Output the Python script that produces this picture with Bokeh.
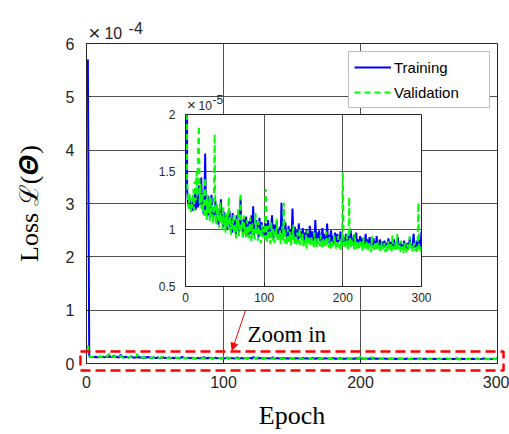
import numpy as np
from bokeh.plotting import figure
from bokeh.models import (Range1d, FixedTicker, NumeralTickFormatter, Legend, LegendItem,
                          Arrow, NormalHead, Label)
from bokeh.embed import file_html
from bokeh.resources import INLINE

# ---------------- data (loss values in units of 1e-7) ----------------
epochs = list(range(1, 301))
train_loss_e7 = [
    5700, 135, 124, 121, 118, 125, 119, 122, 116, 128,
    120, 131, 117, 124, 135, 119, 138, 121, 126, 145,
    118, 127, 113, 122, 166, 115, 124, 112, 129, 117,
    110, 121, 130, 114, 108, 119, 112, 125, 107, 116,
    111, 104, 118, 109, 126, 106, 113, 102, 115, 108,
    104, 112, 100, 109, 105, 116, 101, 110, 97, 114,
    103, 99, 108, 96, 112, 101, 105, 98, 110, 127,
    100, 106, 95, 109, 101, 97, 111, 99, 104, 94,
    107, 100, 96, 112, 98, 120, 95, 103, 99, 108,
    96, 104, 93, 110, 100, 97, 106, 94, 102, 98,
    95, 105, 99, 93, 108, 97, 101, 94, 103, 112,
    96, 92, 104, 98, 95, 107, 93, 100, 96, 102,
    94, 123, 97, 92, 101, 95, 106, 93, 99, 91,
    103, 96, 92, 100, 94, 118, 95, 91, 102, 97,
    93, 99, 90, 105, 95, 92, 98, 91, 101, 94,
    90, 97, 93, 100, 91, 96, 89, 103, 94, 92,
    98, 90, 95, 91, 108, 93, 89, 97, 92, 99,
    90, 94, 88, 101, 92, 96, 89, 93, 91, 105,
    90, 95, 88, 92, 99, 89, 94, 91, 87, 97,
    92, 89, 96, 88, 93, 90, 98, 88, 92, 95,
    89, 93, 87, 96, 90, 88, 94, 91, 87, 99,
    89, 92, 86, 95, 90, 88, 97, 87, 91, 89,
    86, 94, 89, 87, 92, 85, 90, 88, 96, 86,
    91, 87, 85, 93, 88, 86, 90, 84, 92, 87,
    89, 85, 94, 86, 88, 84, 91, 87, 85, 89,
    86, 84, 90, 85, 88, 83, 87, 92, 84, 86,
    89, 84, 87, 83, 91, 85, 88, 84, 86, 93,
    84, 87, 83, 89, 85, 86, 82, 90, 84, 87,
    83, 88, 85, 82, 92, 84, 86, 83, 89, 96,
    84, 87, 82, 90, 85, 83, 91, 84, 86, 98,
]
val_loss_e7 = [
    340, 142, 128, 118, 131, 122, 114, 127, 119, 135,
    116, 142, 125, 150, 128, 170, 190, 122, 140, 118,
    132, 115, 126, 110, 145, 121, 108, 130, 114, 124,
    107, 128, 115, 121, 105, 118, 183, 112, 104, 122,
    109, 117, 101, 124, 106, 112, 99, 119, 103, 110,
    97, 114, 102, 108, 128, 99, 111, 95, 106, 100,
    113, 96, 104, 92, 109, 98, 118, 94, 103, 132,
    97, 107, 91, 112, 96, 101, 93, 108, 95, 104,
    92, 110, 97, 89, 105, 94, 100, 91, 114, 96,
    102, 90, 107, 95, 99, 88, 104, 93, 100, 97,
    91, 135, 96, 89, 103, 92, 98, 87, 106, 94,
    90, 101, 88, 97, 93, 109, 89, 96, 91, 99,
    87, 95, 102, 90, 123, 88, 97, 92, 86, 100,
    93, 89, 98, 86, 95, 91, 104, 87, 94, 90,
    85, 97, 92, 88, 101, 86, 93, 89, 96, 84,
    91, 87, 95, 83, 99, 88, 92, 85, 90, 94,
    86, 89, 83, 97, 88, 91, 84, 93, 87, 90,
    85, 95, 88, 83, 92, 86, 90, 84, 98, 87,
    89, 84, 93, 86, 82, 91, 87, 85, 95, 88,
    83, 90, 86, 94, 84, 88, 82, 92, 86, 150,
    85, 91, 87, 83, 95, 86, 82, 128, 88, 84,
    92, 85, 89, 82, 96, 86, 83, 90, 84, 88,
    82, 91, 85, 88, 81, 93, 84, 87, 82, 90,
    85, 81, 89, 84, 86, 80, 94, 83, 87, 82,
    88, 81, 85, 90, 82, 86, 80, 84, 89, 81,
    85, 82, 88, 80, 86, 83, 81, 90, 84, 82,
    87, 80, 95, 83, 85, 81, 89, 82, 96, 84,
    81, 86, 80, 90, 83, 85, 79, 88, 82, 84,
    80, 87, 83, 81, 94, 82, 86, 80, 85, 83,
    88, 81, 84, 80, 86, 123, 82, 85, 80, 84,
]
x_ticks = [0, 100, 200, 300]
main_y_ticks = [0, 1, 2, 3, 4, 5, 6]        # x 1e-4
inset_y_ticks = [0.5, 1, 1.5, 2]            # x 1e-5
series_labels = ["Training", "Validation"]

train_main = np.array(train_loss_e7) / 1000.0   # units of 1e-4
val_main = np.array(val_loss_e7) / 1000.0
train_inset = np.array(train_loss_e7) / 100.0   # units of 1e-5
val_inset = np.array(val_loss_e7) / 100.0

BLUE = "#0000FF"
GREEN = "#00FF00"
AX = "#262626"
GRID = "#505050"
TICKFONT = "Liberation Sans"
SERIF = "Liberation Serif"

W, H = 509, 434
# main frame geometry (pixels)
FL, FR, FT, FB = 86, 497, 43, 363
X0, X1, Y0, Y1 = 0, 300, 0, 6


def style_axes(fig, size):
    for ax in (fig.xaxis, fig.yaxis):
        ax.axis_line_color = AX
        ax.major_tick_line_color = AX
        ax.major_tick_in = 4
        ax.major_tick_out = 0
        ax.minor_tick_line_color = None
        ax.major_label_text_font = TICKFONT
        ax.major_label_text_font_size = size
        ax.major_label_text_color = AX
    fig.grid.grid_line_color = GRID
    fig.grid.grid_line_width = 1
    fig.outline_line_color = AX
    fig.outline_line_width = 1
    fig.outline_line_alpha = 1


# ---------------- main figure ----------------
p = figure(width=W, height=H, x_range=Range1d(X0, X1), y_range=Range1d(Y0, Y1),
           output_backend="svg", toolbar_location=None,
           min_border_left=FL, min_border_right=W - FR, min_border_top=FT, min_border_bottom=H - FB)
p.background_fill_color = "white"
p.border_fill_color = "white"
style_axes(p, "16px")
p.xaxis.ticker = FixedTicker(ticks=x_ticks)
p.yaxis.ticker = FixedTicker(ticks=main_y_ticks)
p.xaxis.major_label_standoff = 12
p.yaxis.major_label_standoff = 12
p.xaxis.axis_label = "Epoch"
p.yaxis.axis_label = "Loss \u2112(\U0001D723)"
for ax in (p.xaxis, p.yaxis):
    ax.axis_label_text_font = SERIF
    ax.axis_label_text_font_size = "26px"
    ax.axis_label_text_font_style = "normal"
    ax.axis_label_text_color = "black"
p.xaxis.axis_label_standoff = 10
p.yaxis.axis_label_standoff = 19

r_tr = p.line(epochs, train_main, line_color=BLUE, line_width=2)
r_va = p.line(epochs, val_main, line_color=GREEN, line_width=2, line_dash="6 4")

legend = Legend(items=[LegendItem(label=series_labels[0], renderers=[r_tr]),
                       LegendItem(label=series_labels[1], renderers=[r_va])],
                location=(262, 255))
legend.label_text_font = TICKFONT
legend.label_text_font_size = "15px"
legend.label_text_color = "black"
legend.glyph_width = 37
legend.glyph_height = 20
legend.label_height = 20
legend.label_width = 90
legend.label_standoff = 3
legend.padding = 5
legend.spacing = 5
legend.margin = 0
legend.border_line_color = "#7f7f7f"
legend.border_line_width = 1
legend.background_fill_color = "white"
legend.background_fill_alpha = 1
p.add_layout(legend, "center")

p.add_layout(Arrow(end=NormalHead(size=7, fill_color="red", line_color="red"),
                   x_start=116.0, y_start=0.99, x_end=106.3, y_end=0.25,
                   line_color="red", line_width=1))
p.add_layout(Label(x=117.5, y=0.55, text="Zoom in", text_font=SERIF, text_font_size="23px",
                   text_color="black", text_baseline="alphabetic"))

# ---------------- inset figure ----------------
IL, IR, IT, IB = 185, 421, 114, 286
IBL, IBR, IBT, IBB = 45, 10, 25, 30
inset = figure(width=(IR - IL) + IBL + IBR, height=(IB - IT) + IBT + IBB,
               x_range=Range1d(0, 300), y_range=Range1d(0.5, 2),
               output_backend="svg", toolbar_location=None,
               min_border_left=IBL, min_border_right=IBR, min_border_top=IBT, min_border_bottom=IBB)
inset.background_fill_color = "white"
inset.border_fill_alpha = 0
style_axes(inset, "12px")
inset.xaxis.ticker = FixedTicker(ticks=x_ticks)
inset.yaxis.ticker = FixedTicker(ticks=inset_y_ticks)
inset.yaxis.formatter = NumeralTickFormatter(format="0.[0]")
inset.xaxis.major_label_standoff = 6
inset.yaxis.major_label_standoff = 10
inset.line(epochs, train_inset, line_color=BLUE, line_width=2)
inset.line(epochs, val_inset, line_color=GREEN, line_width=2, line_dash="6 4")
inset.styles = {"position": "absolute", "left": f"{IL - IBL}px", "top": f"{IT - IBT}px"}

# ---------------- transparent overlay in main-plot coordinates ----------------
sx = (FR - FL) / (X1 - X0)
sy = (FB - FT) / (Y1 - Y0)
ov = figure(width=W, height=H,
            x_range=Range1d(X0 - FL / sx, X1 + (W - FR) / sx),
            y_range=Range1d(Y0 - (H - FB) / sy, Y1 + FT / sy),
            output_backend="svg", toolbar_location=None, x_axis_type=None, y_axis_type=None,
            min_border=0, min_border_left=0, min_border_right=0, min_border_top=0, min_border_bottom=0)
ov.grid.visible = False
ov.outline_line_color = None
ov.background_fill_alpha = 0
ov.border_fill_alpha = 0
ov.styles = {"position": "absolute", "left": "0px", "top": "0px"}

# zoom box around the near-zero curves
ov.quad(left=[-4.4], right=[304.4], bottom=[-0.13], top=[0.225], fill_color=None,
        line_color="red", line_width=2.5, line_dash="10 5")

# multiplier of main y axis
ov.add_layout(Label(x=5.8, y=6.197, text="\u00d7", text_font=TICKFONT, text_font_size="21px",
                    text_color=AX, text_align="center", text_baseline="middle"))
ov.add_layout(Label(x=13.1, y=6.206, text="10", text_font=TICKFONT, text_font_size="16px",
                    text_color=AX, text_baseline="alphabetic"))
ov.add_layout(Label(x=30.7, y=6.30, text="-4", text_font=TICKFONT, text_font_size="16px",
                    text_color=AX, text_baseline="alphabetic"))
# multiplier of inset y axis
ov.add_layout(Label(x=76.6, y=4.856, text="\u00d7", text_font=TICKFONT, text_font_size="15px",
                    text_color=AX, text_align="center", text_baseline="middle"))
ov.add_layout(Label(x=81.8, y=4.84, text="10", text_font=TICKFONT, text_font_size="12px",
                    text_color=AX, text_baseline="alphabetic"))
ov.add_layout(Label(x=92.0, y=4.95, text="-5", text_font=TICKFONT, text_font_size="12px",
                    text_color=AX, text_baseline="alphabetic"))

open("out.html", "w").write(file_html([p, inset, ov], INLINE))
